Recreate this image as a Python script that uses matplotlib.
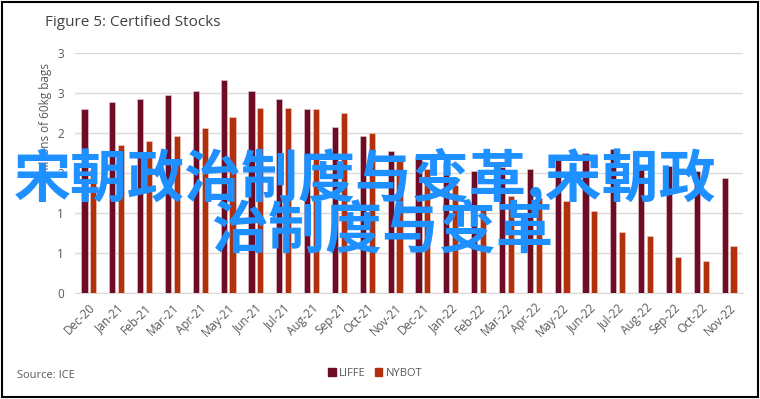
import numpy as np
import matplotlib
matplotlib.use("Agg")
import matplotlib.pyplot as plt
from matplotlib.patches import Rectangle, Patch

# monthly certified stocks, million 60kg bags
months = ["Dec-20", "Jan-21", "Feb-21", "Mar-21", "Apr-21", "May-21", "Jun-21", "Jul-21",
          "Aug-21", "Sep-21", "Oct-21", "Nov-21", "Dec-21", "Jan-22", "Feb-22", "Mar-22",
          "Apr-22", "May-22", "Jun-22", "Jul-22", "Aug-22", "Sep-22", "Oct-22", "Nov-22"]
liffe = [2.30, 2.39, 2.42, 2.48, 2.52, 2.66, 2.52, 2.42, 2.30, 2.08, 1.96, 1.78,
         1.70, 1.62, 1.52, 1.58, 1.55, 1.70, 1.75, 1.80, 1.60, 1.59, 1.52, 1.44]
nybot = [1.55, 1.85, 1.90, 1.96, 2.06, 2.20, 2.31, 2.31, 2.30, 2.25, 2.00, 1.70,
         1.55, 1.35, 1.06, 1.21, 1.19, 1.15, 1.03, 0.76, 0.71, 0.45, 0.40, 0.59]
ytick_vals = [0, 0.5, 1, 1.5, 2, 2.5, 3]
ytick_labels = ["0", "1", "1", "2", "2", "3", "3"]

W, H = 760, 399
grey = "#595959"
c_liffe = "#6d0c24"
c_nybot = "#b3300d"

plt.rcParams['font.family'] = ['Open Sans', 'DejaVu Sans']

fig = plt.figure(figsize=(W / 100, H / 100), dpi=100)
ax = fig.add_axes([75 / W, 1 - 293 / H, (743 - 75) / W, (293 - 53) / H])

x = np.arange(len(months))
ax.bar(x - 0.16, liffe, width=0.22, color=c_liffe, edgecolor="#e9cfd4", linewidth=0.4, zorder=3)
ax.bar(x + 0.16, nybot, width=0.22, color=c_nybot, edgecolor="#f0d2c8", linewidth=0.4, zorder=3)

ax.set_xlim(-0.5, len(months) - 0.5)
ax.set_ylim(0, 3)
ax.set_yticks(ytick_vals)
ax.set_yticklabels(ytick_labels)
ax.set_xticks(x)
ax.set_xticklabels(months, rotation=45, ha="right", rotation_mode="anchor")
ax.tick_params(axis="both", length=0, colors=grey, labelsize=8.5)
ax.tick_params(axis="x", pad=6)
ax.tick_params(axis="y", pad=8)
ax.grid(axis="y", color="#d9d9d9", linewidth=1, zorder=0)
for s in ["top", "right", "left"]:
    ax.spines[s].set_visible(False)
ax.spines["bottom"].set_color("#d9d9d9")

# titles and notes
fig.text(45 / W, 1 - 22 / H, "Figure 5: Certified Stocks", fontsize=11, color="#404040",
         ha="left", va="center")
fig.text(45 / W, 1 - 120 / H, "Millions of 60kg bags", fontsize=8.5, color=grey,
         rotation=90, ha="center", va="center")
fig.text(17 / W, 1 - 376 / H, "Source: ICE", fontsize=8, color=grey, ha="left", va="center")

handles = [Patch(color=c_liffe, label="LIFFE"), Patch(color=c_nybot, label="NYBOT")]
leg = fig.legend(handles=handles, loc="center", bbox_to_anchor=(375 / W, 1 - 373 / H), ncol=2,
                 frameon=False, fontsize=8, handlelength=0.7, handleheight=0.7,
                 handletextpad=0.3, columnspacing=0.8)
for t in leg.get_texts():
    t.set_color(grey)

# overlay text
overlay = dict(fontsize=41, color="#1e90ff", fontweight="bold", ha="center", va="center",
               family=["Noto Sans CJK SC", "DejaVu Sans"], zorder=10)
fig.text(365 / W, 1 - 178 / H, "宋朝政治制度与变革,宋朝政", **overlay)
fig.text(382 / W, 1 - 231 / H, "治制度与变革", **overlay)

# outer frame
fig.patches.append(Rectangle((0.002, 0.004), 0.995, 0.992, transform=fig.transFigure,
                             fill=False, edgecolor="black", linewidth=1.5))

fig.savefig("out.png", dpi=100)
